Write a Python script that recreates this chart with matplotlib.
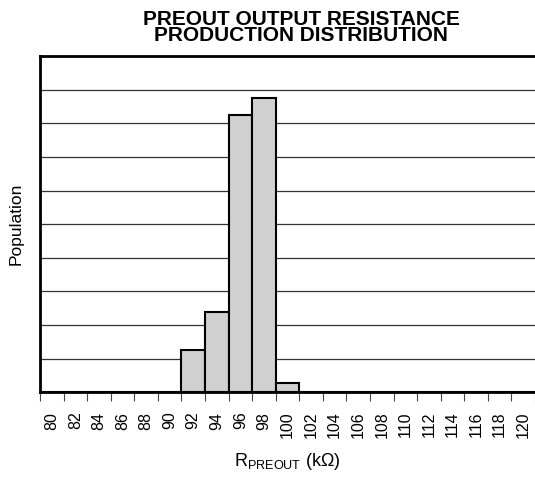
# PREOUT output resistance production distribution histogram
import numpy as np
import matplotlib
matplotlib.use("Agg")
import matplotlib.pyplot as plt

plt.rcParams['font.family'] = ['Liberation Sans', 'DejaVu Sans']
plt.rcParams['mathtext.fontset'] = 'custom'
plt.rcParams['mathtext.rm'] = 'Liberation Sans'
plt.rcParams['mathtext.it'] = 'Liberation Sans:italic'

# bins (kOhm) and population (in grid divisions, y axis unlabeled)
bins = list(range(80, 122, 2))
counts = [0, 0, 0, 0, 0, 0, 1.26, 2.40, 8.25, 8.75, 0.27,
          0, 0, 0, 0, 0, 0, 0, 0, 0, 0]

fig = plt.figure(figsize=(5.35, 4.79), dpi=100)
ax = fig.add_axes([0.0748, 0.181, 0.9252, 0.702])

pos = np.arange(len(bins))
ax.bar(pos + 0.5, counts, width=1.0, color='#d0d0d0', edgecolor='black',
       linewidth=1.5, zorder=3)

ax.set_xlim(0, len(bins))
ax.set_ylim(0, 10)
ax.set_yticks(np.arange(1, 10))
ax.set_yticklabels([])
ax.tick_params(axis='y', length=0)
ax.grid(axis='y', color='#333333', linewidth=0.9, zorder=0)

# tick marks on slot edges, labels centred in each slot
ax.set_xticks(np.arange(len(bins) + 1))
ax.set_xticklabels([])
ax.set_xticks(pos + 0.5, minor=True)
ax.set_xticklabels([str(b) for b in bins], minor=True, rotation=90, fontsize=11.5)
ax.tick_params(axis='x', which='major', direction='out', length=6.5, width=0.8,
               color='#444444')
ax.tick_params(axis='x', which='minor', length=0, pad=14)

for s in ['left', 'top', 'bottom']:
    ax.spines[s].set_linewidth(2)
ax.spines['right'].set_visible(False)

ax.set_title("PREOUT OUTPUT RESISTANCE\nPRODUCTION DISTRIBUTION", x=0.528,
             fontsize=15, fontweight='bold', linespacing=0.78, pad=11)
ax.set_ylabel("Population", fontsize=12.5, labelpad=8)
ax.set_xlabel(r"R$_{\mathrm{PREOUT}}$ (k$\Omega$)", fontsize=13, labelpad=9)

plt.savefig("out.png", dpi=100)
